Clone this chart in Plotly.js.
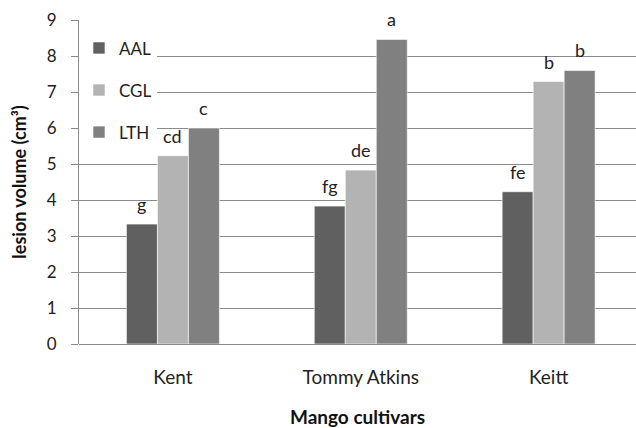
<!DOCTYPE html>
<html>
<head>
<meta charset="utf-8">
<script src="https://cdn.plot.ly/plotly-3.0.1.min.js"></script>
<style>html,body{margin:0;padding:0;background:#fff;}#chart{width:636px;height:428px;}</style>
</head>
<body>
<div id="chart"></div>
<script>
const categories = ["Kent", "Tommy Atkins", "Keitt"];
const seriesNames = ["AAL", "CGL", "LTH"];
const aal = [3.33, 3.83, 4.23];
const cgl = [5.23, 4.83, 7.29];
const lth = [6.0, 8.46, 7.60];
const aalLetters = ["g", "fg", "fe"];
const cglLetters = ["cd", "de", "b"];
const lthLetters = ["c", "a", "b"];
const colors = ["#606060", "#b3b3b3", "#808080"];

const values = [aal, cgl, lth];
const letters = [aalLetters, cglLetters, lthLetters];
const font = "Lato, 'Open Sans', sans-serif";

const traces = values.map((v, i) => ({
  type: "bar",
  name: seriesNames[i],
  x: categories.map((c, k) => k),
  y: v,
  legendgroup: "g" + i,
  marker: {color: colors[i], line: {color: "#ffffff", width: 0.6}},
  hoverinfo: "skip"
}));

const bargap = 0.505;
const barW = (1 - bargap) / 3;
const annotations = [];
values.forEach((v, i) => {
  v.forEach((val, k) => {
    annotations.push({
      x: k + (i - 1) * barW,
      y: val,
      xref: "x", yref: "y",
      text: letters[i][k],
      showarrow: false,
      yshift: 20,
      font: {family: font, size: 18, color: "#222"}
    });
  });
});

const layout = {
  width: 636, height: 428,
  margin: {l: 79, r: 0, t: 20, b: 84},
  paper_bgcolor: "#fff", plot_bgcolor: "#fff",
  barmode: "group",
  bargap: bargap, bargroupgap: 0,
  font: {family: font, size: 16, color: "#222"},
  xaxis: {
    range: [-0.5, 2.465],
    tickvals: [0, 1, 2],
    ticktext: categories,
    showgrid: false,
    zeroline: false,
    showline: false,
    ticks: "",
    ticklabelstandoff: 20,
    tickfont: {family: font, size: 19, color: "#222"},
    title: {text: "<b>Mango cultivars</b>", font: {family: font, size: 19, color: "#111"}, standoff: 30}
  },
  yaxis: {
    range: [0, 9],
    dtick: 1,
    showgrid: true,
    gridcolor: "#8a8a8a",
    gridwidth: 1,
    zeroline: true,
    zerolinecolor: "#8a8a8a",
    zerolinewidth: 1,
    showline: true,
    linecolor: "#8a8a8a",
    linewidth: 1,
    ticks: "outside",
    ticklen: 7,
    tickcolor: "#8a8a8a",
    ticklabelstandoff: 11,
    tickfont: {family: font, size: 17, color: "#222"},
    title: {text: "<b>lesion volume (cm³)</b>", font: {family: font, size: 18, color: "#111"}, standoff: 15}
  },
  showlegend: true,
  legend: {
    x: 0.0, xanchor: "left",
    y: 0.968, yanchor: "top",
    bgcolor: "#ffffff",
    borderwidth: 0,
    tracegroupgap: 17,
    itemwidth: 30,
    font: {family: font, size: 17, color: "#222"}
  },
  annotations: annotations
};

Plotly.newPlot("chart", traces, layout, {staticPlot: true, displayModeBar: false});
</script>
</body>
</html>
